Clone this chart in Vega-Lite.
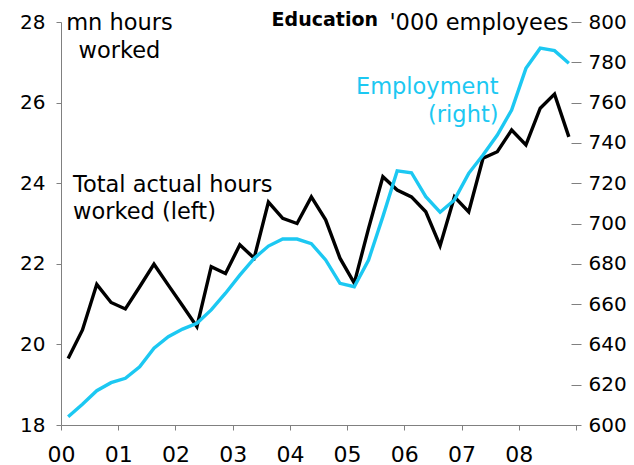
{
  "$schema": "https://vega.github.io/schema/vega-lite/v6.json",
  "width": 515,
  "height": 403,
  "autosize": {"type": "none"},
  "padding": {"left": 61, "top": 22, "right": 58, "bottom": 40},
  "config": {
    "view": {"stroke": null},
    "font": "DejaVu Sans",
    "axis": {
      "grid": false,
      "domainColor": "#808080",
      "tickColor": "#808080",
      "tickSize": 5,
      "labelFontSize": 20,
      "labelColor": "#000000",
      "titleColor": "#000000",
      "titleFontSize": 22.5,
      "titleFontWeight": "normal",
      "labelFlush": false,
      "labelOverlap": false
    }
  },
  "datasets": {
    "series": [
      {"year": 2000.125, "hours": 19.65, "emp": 604.1},
      {"year": 2000.375, "hours": 20.36, "emp": 610.3},
      {"year": 2000.625, "hours": 21.49, "emp": 617.0},
      {"year": 2000.875, "hours": 21.04, "emp": 621.0},
      {"year": 2001.125, "hours": 20.88, "emp": 623.2},
      {"year": 2001.375, "hours": 21.43, "emp": 628.9},
      {"year": 2001.625, "hours": 21.99, "emp": 638.1},
      {"year": 2001.875, "hours": 21.47, "emp": 643.8},
      {"year": 2002.125, "hours": 20.96, "emp": 647.6},
      {"year": 2002.375, "hours": 20.44, "emp": 650.5},
      {"year": 2002.625, "hours": 21.93, "emp": 657.1},
      {"year": 2002.875, "hours": 21.76, "emp": 665.4},
      {"year": 2003.125, "hours": 22.47, "emp": 674.4},
      {"year": 2003.375, "hours": 22.14, "emp": 682.7},
      {"year": 2003.625, "hours": 23.53, "emp": 688.8},
      {"year": 2003.875, "hours": 23.13, "emp": 692.3},
      {"year": 2004.125, "hours": 23.0, "emp": 692.3},
      {"year": 2004.375, "hours": 23.66, "emp": 690.0},
      {"year": 2004.625, "hours": 23.09, "emp": 681.9},
      {"year": 2004.875, "hours": 22.14, "emp": 670.3},
      {"year": 2005.125, "hours": 21.52, "emp": 668.6},
      {"year": 2005.375, "hours": 22.88, "emp": 681.9},
      {"year": 2005.625, "hours": 24.16, "emp": 703.4},
      {"year": 2005.875, "hours": 23.83, "emp": 726.1},
      {"year": 2006.125, "hours": 23.66, "emp": 725.2},
      {"year": 2006.375, "hours": 23.29, "emp": 713.3},
      {"year": 2006.625, "hours": 22.45, "emp": 705.6},
      {"year": 2006.875, "hours": 23.66, "emp": 711.7},
      {"year": 2007.125, "hours": 23.29, "emp": 724.9},
      {"year": 2007.375, "hours": 24.62, "emp": 734.0},
      {"year": 2007.625, "hours": 24.78, "emp": 743.9},
      {"year": 2007.875, "hours": 25.32, "emp": 756.3},
      {"year": 2008.125, "hours": 24.95, "emp": 777.0},
      {"year": 2008.375, "hours": 25.86, "emp": 787.0},
      {"year": 2008.625, "hours": 26.21, "emp": 785.8},
      {"year": 2008.875, "hours": 25.15, "emp": 779.5}
    ],
    "labelLeft": [
      {"year": 2000.21, "hours": 23.79, "text": "Total actual hours"},
      {"year": 2000.21, "hours": 23.1, "text": "worked (left)"}
    ],
    "labelRight": [
      {"year": 2007.646, "emp": 764.5, "text": "Employment"},
      {"year": 2007.646, "emp": 750.6, "text": "(right)"}
    ],
    "heading": [
      {"year": 2004.61, "emp": 797.8, "text": "Education"}
    ]
  },
  "layer": [
    {
      "layer": [
        {
          "data": {"name": "series"},
          "mark": {"type": "line", "color": "#000000", "strokeWidth": 3.4, "strokeJoin": "miter"},
          "encoding": {
            "x": {
              "field": "year",
              "type": "quantitative",
              "scale": {"domain": [2000, 2009], "nice": false, "zero": false},
              "axis": {
                "orient": "bottom",
                "title": null,
                "values": [2000, 2001, 2002, 2003, 2004, 2005, 2006, 2007, 2008, 2009],
                "labelExpr": "datum.value < 2009 ? format(datum.value - 2000, '02d') : ''",
                "labelFontSize": 22,
                "labelDx": 7,
                "labelPadding": 14
              }
            },
            "y": {
              "field": "hours",
              "type": "quantitative",
              "scale": {"domain": [18, 28], "nice": false, "zero": false},
              "axis": {
                "orient": "left",
                "values": [18, 20, 22, 24, 26, 28],
                "labelPadding": 11,
                "title": ["mn hours", "worked"],
                "titleAngle": 0,
                "titleAlign": "center",
                "titleBaseline": "alphabetic",
                "titleX": 58,
                "titleY": 7,
                "titleLineHeight": 28
              }
            }
          }
        },
        {
          "data": {"name": "labelLeft"},
          "mark": {"type": "text", "align": "left", "baseline": "alphabetic", "fontSize": 22.5, "color": "#000000"},
          "encoding": {
            "x": {"field": "year", "type": "quantitative"},
            "y": {"field": "hours", "type": "quantitative"},
            "text": {"field": "text"}
          }
        }
      ]
    },
    {
      "layer": [
        {
          "data": {"name": "series"},
          "mark": {"type": "line", "color": "#1CC8F2", "strokeWidth": 3.4, "strokeJoin": "miter"},
          "encoding": {
            "x": {"field": "year", "type": "quantitative"},
            "y": {
              "field": "emp",
              "type": "quantitative",
              "scale": {"domain": [600, 800], "nice": false, "zero": false},
              "axis": {
                "orient": "right",
                "offset": -5,
                "tickSize": 10,
                "domain": false,
                "values": [600, 620, 640, 660, 680, 700, 720, 740, 760, 780, 800],
                "labelPadding": 7,
                "title": "'000 employees",
                "titleAngle": 0,
                "titleAlign": "right",
                "titleBaseline": "alphabetic",
                "titleX": -3,
                "titleY": 7
              }
            }
          }
        },
        {
          "data": {"name": "labelRight"},
          "mark": {"type": "text", "align": "right", "baseline": "alphabetic", "fontSize": 22.5, "color": "#1CC8F2"},
          "encoding": {
            "x": {"field": "year", "type": "quantitative"},
            "y": {"field": "emp", "type": "quantitative"},
            "text": {"field": "text"}
          }
        },
        {
          "data": {"name": "heading"},
          "mark": {"type": "text", "align": "center", "baseline": "alphabetic", "fontSize": 19, "fontWeight": "bold", "color": "#000000"},
          "encoding": {
            "x": {"field": "year", "type": "quantitative"},
            "y": {"field": "emp", "type": "quantitative"},
            "text": {"field": "text"}
          }
        },
        {
          "mark": {"type": "rule", "color": "#808080", "strokeWidth": 1},
          "encoding": {
            "x": {"datum": 2009, "type": "quantitative"}
          }
        }
      ]
    }
  ],
  "resolve": {"scale": {"y": "independent"}}
}
